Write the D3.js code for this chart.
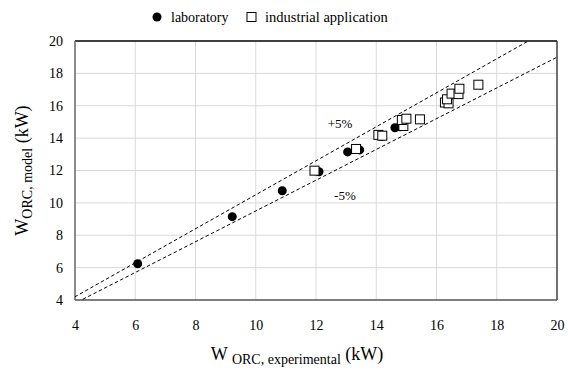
<!DOCTYPE html>
<html><head><meta charset="utf-8">
<script src="https://cdn.jsdelivr.net/npm/d3@7"></script>
<style>body{margin:0;background:#fff}svg{display:block}</style>
</head><body><svg id="c" width="568" height="378"></svg>
<script>
const FONT = "'Liberation Serif', 'Times New Roman', Times, 'DejaVu Serif', serif";
const labX = [6.08, 9.22, 10.88, 12.1, 13.05, 13.45, 14.18, 14.62, 14.79];
const labY = [6.24, 9.15, 10.75, 11.92, 13.15, 13.27, 14.1, 14.64, 14.7];
const indX = [11.95, 13.33, 14.07, 14.2, 14.9, 14.85, 15.0, 15.45, 16.28, 16.4, 16.35, 16.5, 16.73, 16.76, 17.39];
const indY = [11.99, 13.33, 14.2, 14.15, 14.75, 15.12, 15.2, 15.16, 16.2, 16.15, 16.4, 16.75, 16.72, 17.05, 17.3];
const xTicks = [4, 6, 8, 10, 12, 14, 16, 18, 20];
const yTicks = [4, 6, 8, 10, 12, 14, 16, 18, 20];
const bands = [1.05, 0.95];
const bandLabels = ["+5%", "-5%"];
const errX = 0.1;

const svg = d3.select("#c");
const x = d3.scaleLinear().domain([4, 20]).range([75, 557]);
const y = d3.scaleLinear().domain([4, 20]).range([300, 41]);

svg.append("g").selectAll("line").data(xTicks.slice(1, -1)).join("line")
  .attr("x1", d => x(d)).attr("x2", d => x(d)).attr("y1", y(4)).attr("y2", y(20))
  .attr("stroke", "#d9d9d9").attr("stroke-width", 1);
svg.append("g").selectAll("line").data(yTicks.slice(1, -1)).join("line")
  .attr("y1", d => y(d)).attr("y2", d => y(d)).attr("x1", x(4)).attr("x2", x(20))
  .attr("stroke", "#d9d9d9").attr("stroke-width", 1);

svg.append("line").attr("x1", x(4)).attr("x2", x(20)).attr("y1", y(20)).attr("y2", y(20)).attr("stroke", "#000").attr("stroke-width", 1.3);
svg.append("line").attr("x1", x(20)).attr("x2", x(20)).attr("y1", y(20)).attr("y2", y(4)).attr("stroke", "#222").attr("stroke-width", 1.3);
svg.append("line").attr("x1", x(4)).attr("x2", x(4)).attr("y1", y(20)).attr("y2", y(4)).attr("stroke", "#666").attr("stroke-width", 1.5);
svg.append("line").attr("x1", x(4)).attr("x2", x(20)).attr("y1", y(4)).attr("y2", y(4)).attr("stroke", "#555").attr("stroke-width", 1.5);

const xAxis = d3.axisBottom(x).tickValues(xTicks).tickSize(0).tickPadding(20).tickFormat(d3.format("d"));
const gx = svg.append("g").attr("transform", `translate(0,${y(4)})`).call(xAxis);
gx.select(".domain").remove();
const yAxis = d3.axisLeft(y).tickValues(yTicks).tickSize(0).tickPadding(12).tickFormat(d3.format("d"));
const gy = svg.append("g").attr("transform", `translate(${x(4)},0)`).call(yAxis);
gy.select(".domain").remove();
[gx, gy].forEach(g => g.attr("font-family", FONT).attr("font-size", 14).selectAll("text").attr("fill", "#000"));

svg.append("clipPath").attr("id", "pc").append("rect")
  .attr("x", x(4)).attr("y", y(20)).attr("width", x(20) - x(4)).attr("height", y(4) - y(20));
const line = d3.line().x(d => x(d[0])).y(d => y(d[1]));
bands.forEach(k => {
  svg.append("path").attr("clip-path", "url(#pc)")
    .attr("d", line([[0, 0], [25, 25 * k]]))
    .attr("fill", "none").attr("stroke", "#000").attr("stroke-width", 1).attr("stroke-dasharray", "3.5,2.5");
});
svg.append("text").attr("x", x(12.8)).attr("y", y(14.62)).attr("text-anchor", "middle").attr("font-size", 13).text(bandLabels[0]);
svg.append("text").attr("x", x(12.96)).attr("y", y(10.18)).attr("text-anchor", "middle").attr("font-size", 13).text(bandLabels[1]);

const lab = labX.map((v, i) => [v, labY[i]]);
const ind = indX.map((v, i) => [v, indY[i]]);
const err = svg.append("g");
[...lab, ...ind].forEach(d => {
  err.append("line").attr("x1", x(d[0] - errX)).attr("x2", x(d[0] + errX)).attr("y1", y(d[1])).attr("y2", y(d[1])).attr("stroke", "#000").attr("stroke-width", 1);
  [-errX, errX].forEach(e => err.append("line").attr("x1", x(d[0] + e)).attr("x2", x(d[0] + e)).attr("y1", y(d[1]) - 2).attr("y2", y(d[1]) + 2).attr("stroke", "#000").attr("stroke-width", 1));
});
svg.append("g").selectAll("circle").data(lab).join("circle")
  .attr("cx", d => x(d[0])).attr("cy", d => y(d[1])).attr("r", 4.5).attr("fill", "#000");
svg.append("g").selectAll("rect").data(ind).join("rect")
  .attr("x", d => x(d[0]) - 4.5).attr("y", d => y(d[1]) - 4.5).attr("width", 9).attr("height", 9)
  .attr("fill", "#fff").attr("stroke", "#000").attr("stroke-width", 1);

const lg = svg.append("g");
lg.append("circle").attr("cx", 157).attr("cy", 17).attr("r", 4.5).attr("fill", "#000");
lg.append("text").attr("x", 171).attr("y", 21.5).attr("font-size", 14).text("laboratory");
lg.append("rect").attr("x", 247).attr("y", 12.5).attr("width", 9).attr("height", 9).attr("fill", "#fff").attr("stroke", "#000");
lg.append("text").attr("x", 265).attr("y", 21.5).attr("font-size", 14.5).text("industrial application");

const xt = svg.append("text").attr("x", 297).attr("y", 360).attr("text-anchor", "middle").attr("font-size", 18);
xt.append("tspan").text("W ");
xt.append("tspan").attr("dy", 4).attr("font-size", 14).text("ORC, experimental");
xt.append("tspan").attr("dy", -4).text(" (kW)");

const yt = svg.append("text").attr("transform", `translate(28,${(y(4) + y(20)) / 2}) rotate(-90)`).attr("text-anchor", "middle").attr("font-size", 18);
yt.append("tspan").text("W");
yt.append("tspan").attr("dy", 4).attr("font-size", 14).text("ORC, model");
yt.append("tspan").attr("dy", -4).text(" (kW)");

svg.selectAll("text").attr("font-family", FONT).attr("fill", "#000");
</script></body></html>
